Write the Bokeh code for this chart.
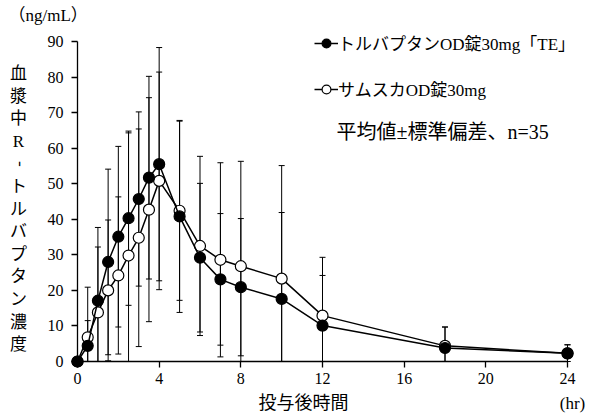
import math
import numpy as np
from bokeh.plotting import figure
from bokeh.models import (ColumnDataSource, Whisker, TeeHead, FixedTicker, Label,
                          Legend, LegendItem, Range1d)
from bokeh.embed import file_html
from bokeh.resources import INLINE

# ---- data ----
hours = [0, 0.5, 1, 1.5, 2, 2.5, 3, 3.5, 4, 5, 6, 7, 8, 10, 12, 18, 24]
te_mean = [0, 4.4, 17.1, 28.0, 35.1, 40.3, 45.7, 51.7, 55.5, 40.8, 29.2, 23.1, 20.9, 17.6, 10.1, 3.8, 2.3]
te_sd = [0, 7.1, 20.6, 26.1, 25.4, 24.5, 24.5, 28.5, 32.8, 27.0, 20.9, 18.5, 19.3, 24.3, 14.1, 5.9, 2.4]
sam_mean = [0, 6.8, 13.8, 20.0, 24.2, 29.8, 34.8, 42.7, 50.8, 42.4, 32.5, 28.6, 26.8, 23.3, 12.9, 4.4, 2.3]
sam_sd = [0, 14.1, 18.4, 19.8, 22.1, 34.5, 30.6, 31.5, 30.6, 25.2, 25.2, 27.3, 29.5, 31.8, 16.4, 5.3, 2.4]

x_ticks = [0, 4, 8, 12, 16, 20, 24]
y_ticks = [0, 10, 20, 30, 40, 50, 60, 70, 80, 90]

te_label = "トルバプタンOD錠30mg「TE」"
sam_label = "サムスカOD錠30mg"
note_text = "平均値±標準偏差、n=35"
y_title = "血漿中R-トルバプタン濃度"
x_title = "投与後時間"
y_unit = "（ng/mL）"
x_unit = "(hr)"

FONT = "'Liberation Serif', 'Noto Sans CJK JP'"
H = 419

p = figure(width=600, height=419, output_backend="svg", toolbar_location=None,
           x_range=Range1d(-3.7714, 25.616), y_range=Range1d(-16.3125, 101.53),
           min_border_left=0, min_border_right=0, min_border_top=0, min_border_bottom=0)
p.title.visible = False
p.xgrid.visible = False
p.ygrid.visible = False
p.outline_line_color = None
p.background_fill_color = "white"
p.border_fill_color = "white"

for ax, ticks, bnds in ((p.xaxis, x_ticks, (0, 24)), (p.yaxis, y_ticks, (0, 90))):
    ax.fixed_location = 0
    ax.bounds = bnds
    ax.ticker = FixedTicker(ticks=ticks)
    ax.major_tick_in = 0
    ax.major_tick_out = 6
    ax.minor_tick_line_color = None
    ax.axis_line_color = "black"
    ax.axis_line_width = 1.3
    ax.major_tick_line_color = "black"
    ax.major_tick_line_width = 1.3
    ax.major_label_text_font = FONT
    ax.major_label_text_font_size = "16px"
    ax.major_label_text_color = "black"
p.yaxis.major_label_standoff = 8
p.xaxis.major_label_standoff = 6


def add_bars(mean, sd):
    m = np.array(mean)
    s = np.array(sd)
    src = ColumnDataSource(dict(x=hours, upper=m + s, lower=np.clip(m - s, 0, None)))
    w = Whisker(source=src, base="x", upper="upper", lower="lower", dimension="height",
                line_color="black", line_width=1,
                upper_head=TeeHead(size=6, line_color="black", line_width=1),
                lower_head=TeeHead(size=6, line_color="black", line_width=1))
    p.add_layout(w)


add_bars(sam_mean, sam_sd)
add_bars(te_mean, te_sd)

sam_src = ColumnDataSource(dict(x=hours, y=sam_mean))
te_src = ColumnDataSource(dict(x=hours, y=te_mean))

sam_line = p.line("x", "y", source=sam_src, line_color="black", line_width=1.5)
sam_pts = p.scatter("x", "y", source=sam_src, marker="circle", size=11,
                    fill_color="white", line_color="black", line_width=1.2)
te_line = p.line("x", "y", source=te_src, line_color="black", line_width=1.5)
te_pts = p.scatter("x", "y", source=te_src, marker="circle", size=11,
                   fill_color="black", line_color="black", line_width=1.2)

legend = Legend(items=[LegendItem(label=te_label, renderers=[te_line, te_pts]),
                       LegendItem(label=sam_label, renderers=[sam_line, sam_pts])],
                location=(314, H - 101), orientation="vertical",
                glyph_width=24, glyph_height=22, label_height=22, spacing=21,
                label_standoff=0, padding=0, margin=0,
                border_line_color=None, background_fill_alpha=0,
                label_text_font=FONT, label_text_font_size="17px", label_text_color="black")
p.add_layout(legend)

p.add_layout(Label(x=336, y=H - 131, x_units="screen", y_units="screen", text=note_text,
                   text_align="left", text_baseline="middle", text_font=FONT,
                   text_font_size="20px", text_color="black"))

# y axis title, stacked vertically
for i, ch in enumerate(y_title):
    p.add_layout(Label(x=18, y=H - (73 + 22.6 * i), x_units="screen", y_units="screen",
                       text=ch, text_align="center", text_baseline="middle",
                       angle=(math.pi / 2 if ch == "-" else 0),
                       text_font=FONT, text_font_size="17px", text_color="black"))

p.add_layout(Label(x=8, y=H - 15, x_units="screen", y_units="screen", text=y_unit,
                   text_align="left", text_baseline="middle", text_font=FONT,
                   text_font_size="17px", text_color="black"))
p.add_layout(Label(x=303, y=H - 402, x_units="screen", y_units="screen", text=x_title,
                   text_align="center", text_baseline="middle", text_font=FONT,
                   text_font_size="18px", text_color="black"))
p.add_layout(Label(x=572, y=H - 403, x_units="screen", y_units="screen", text=x_unit,
                   text_align="center", text_baseline="middle", text_font=FONT,
                   text_font_size="17px", text_color="black"))

open("out.html", "w").write(file_html(p, INLINE))
